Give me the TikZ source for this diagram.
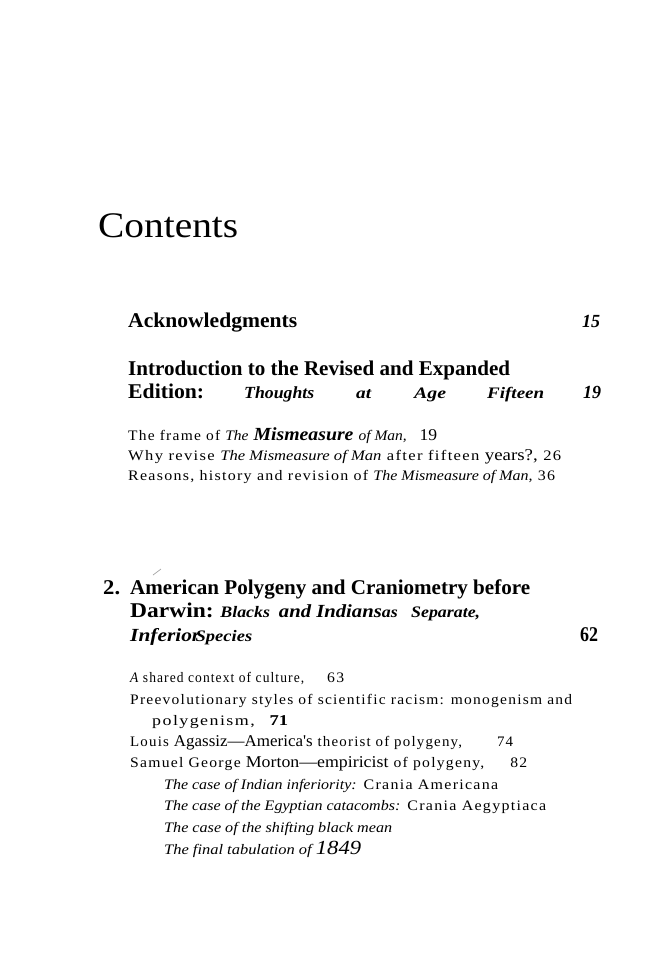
\documentclass[tikz,border=0pt]{standalone}
\usepackage{fontspec}
\usepackage{graphicx}
\newfontfamily\scanfont{Liberation Serif}
\newfontfamily\scanspaced[LetterSpace=8]{Liberation Serif}
\newlength\fitlen
% squeeze or stretch a text to a given width (in pt)
\newcommand\fitw[2]{\settowidth\fitlen{#2}\pgfmathsetmacro\fitr{#1/\fitlen}\scalebox{\fitr}[1]{#2}}
% inline font switches of the scanned page
\newcommand\tit{\scanfont\itshape\fontsize{14.5}{16}\selectfont}
\newcommand\tbig{\scanfont\upshape\mdseries\fontsize{16.5}{18}\selectfont}
\newcommand\tbi{\scanfont\bfseries\itshape\fontsize{16}{18}\selectfont}
\newcommand\tbib{\scanfont\bfseries\itshape\fontsize{18.5}{20}\selectfont}

\begin{document}
\begin{tikzpicture}[x=1pt,y=-1pt,
    every node/.style={inner sep=0pt,anchor=base west},
    sp/.style={font=\scanspaced\fontsize{14.5}{16}\selectfont},
    it/.style={font=\tit},
    hd/.style={font=\scanfont\bfseries\fontsize{21}{24}\selectfont},
    hdi/.style={font=\tbi},
    pg/.style={font=\tbib}]
  \fill[white] (0,0) rectangle (666,966);
  \useasboundingbox (0,0) rectangle (666,966);
  \node[font=\scanfont\fontsize{36}{40}\selectfont] (contents) at (98,237) {\fitw{140}{Contents}};
  % front matter
  \node[hd] (ack) at (128,327) {\fitw{169}{Acknowledgments}};
  \node[pg] (ackpg) at (582,327) {\fitw{18}{15}};
  \node[hd] (intro) at (128,375) {\fitw{382}{Introduction to the Revised and Expanded}};
  \node[hd] (edit) at (128,398) {\fitw{76}{Edition:}};
  \node[hdi,font=\scanfont\bfseries\itshape\fontsize{17}{18}\selectfont] (thoughts) at (244,398) {\fitw{70}{Thoughts}};
  \node[hdi] (at) at (356,398) {\fitw{15}{at}};
  \node[hdi] (age) at (414,398) {\fitw{32}{Age}};
  \node[hdi] (fifteen) at (487,398) {\fitw{57}{Fifteen}};
  \node[pg] (intropg) at (583,398) {\fitw{18}{19}};
  \node[sp] (frame) at (128,440) {\fitw{309}{The frame of {\tit The} {\tbib Mismeasure} {\tit of Man,}\hspace{12pt}{\tbig 19}}};
  \node[sp] (why) at (128,460) {\fitw{433}{Why revise {\tit The Mismeasure of Man} after fifteen {\tbig years?,} 26}};
  \node[sp] (reasons) at (128,480) {\fitw{427}{Reasons, history and revision of {\tit The Mismeasure of Man,} 36}};
  % chapter 2
  \draw[black!35,line width=0.7pt] (153,575) -- (161,569);
  \node[hd] (chno) at (103,594) {\fitw{17}{2.}};
  \node[hd] (ch1) at (130,594) {\fitw{400}{American Polygeny and Craniometry before}};
  \node[hd] (ch2) at (130,617) {\fitw{350}{Darwin:\hspace{6pt}{\tbi Blacks}\hspace{8pt}{\tbib and Indians}{\tbi as}\hspace{12pt}{\tbi Separate,}}};
  \node[hd] (ch3) at (130,641) {\fitw{122}{{\tbib Inferior}\hspace{-4pt}{\tbi Species}}};
  \node[hd] (chpg) at (580,641) {\fitw{18}{62}};
  \node[sp] (s1) at (130,682) {\fitw{174}{{\itshape A} shared context of culture,}};
  \node[sp] (s1pg) at (327,682) {\fitw{17}{63}};
  \node[sp] (s2) at (130,704) {\fitw{442}{Preevolutionary styles of scientific racism: monogenism and}};
  \node[sp] (s2b) at (152,725) {\fitw{136}{polygenism,\hspace{12pt}{\scanfont\bfseries\fontsize{15}{18}\selectfont 71}}};
  \node[sp] (s3) at (130,746) {\fitw{383}{Louis {\tbig Agassiz—America's} theorist of polygeny,\hspace{34pt}74}};
  \node[sp] (s4) at (130,767) {\fitw{397}{Samuel George {\tbig Morton—empiricist} of polygeny,\hspace{24pt}82}};
  \node[sp] (t1) at (164,789) {\fitw{334}{{\tit The case of Indian inferiority:} Crania Americana}};
  \node[sp] (t2) at (164,810) {\fitw{382}{{\tit The case of the Egyptian catacombs:} Crania Aegyptiaca}};
  \node[it] (t3) at (164,832) {\fitw{228}{The case of the shifting black mean}};
  \node[it] (t4) at (164,854) {\fitw{197}{The final tabulation of {\scanfont\itshape\fontsize{20}{22}\selectfont 1849}}};
\end{tikzpicture}
\end{document}
